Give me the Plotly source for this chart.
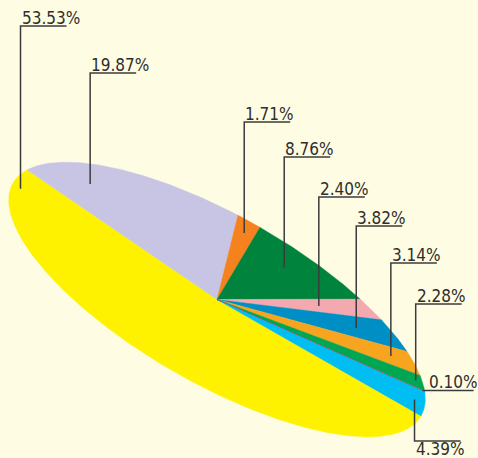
import numpy as np
import plotly.graph_objects as go

# Slice data, in drawing order (clockwise from the right-hand end of the pie)
labels = ["53.53%", "19.87%", "1.71%", "8.76%", "2.40%", "3.82%", "3.14%", "2.28%", "0.10%", "4.39%"]
values = [53.53, 19.87, 1.71, 8.76, 2.40, 3.82, 3.14, 2.28, 0.10, 4.39]
colors = ["#FFF200", "#C7C5E3", "#F5821F", "#00843D", "#F4A9B0",
          "#008FC5", "#F7A51E", "#00A651", "#ED1C24", "#00BEF2"]

# Tilted-pie geometry (pixel space, y grows downward)
W, H = 478, 458
CX, CY = 217.0, 299.5
A, B = 235.0, 84.0
PHI = np.radians(29.7)
U = np.array([np.cos(PHI), np.sin(PHI)])
V = np.array([-np.sin(PHI), np.cos(PHI)])

# Label placement: position within slice (fraction of its sweep), radial
# fraction, label line height and which way the leader goes
lab_frac = [0.93, 0.27, 0.5, 0.43, 0.5, 0.5, 0.5, 0.5, 0.5, 0.5]
lab_rad = [0.96, 0.84, 0.85, 0.75, 0.66, 0.78, 0.88, 0.965, 0.99, 0.95]
lab_y = [26, 73, 122, 157, 197, 226, 263, 304, None, 441]
LINE_LEN = 46
LINE_COLOR = "#3C3C3C"
TEXT_COLOR = "#2E2E2E"
FONT = "DejaVu Sans Condensed, DejaVu Sans, sans-serif"


def to_xy(theta, r=1.0):
    p = (np.array([CX, CY])[:, None]
         + r * A * np.cos(theta)[None, :] * U[:, None]
         + r * B * np.sin(theta)[None, :] * V[:, None])
    return p[0], p[1]


fig = go.Figure()

total = float(sum(values))
edges = np.concatenate([[0.0], np.cumsum(values)]) / total * 2 * np.pi

for i, (v, c) in enumerate(zip(values, colors)):
    t0, t1 = edges[i], edges[i + 1]
    n = max(4, int(np.degrees(t1 - t0) * 2))
    th = np.linspace(t0, t1, n)
    x, y = to_xy(th)
    xs = np.concatenate([[CX], x, [CX]])
    ys = np.concatenate([[CY], y, [CY]])
    fig.add_trace(go.Scatter(
        x=xs, y=ys, mode="lines", fill="toself", fillcolor=c,
        line=dict(color=c, width=0.8 if v < 0.5 else 0.4),
        hoverinfo="skip", showlegend=False))

# Leader lines and labels
for i, lab in enumerate(labels):
    t0, t1 = edges[i], edges[i + 1]
    th = np.array([t0 + lab_frac[i] * (t1 - t0)])
    ax, ay = to_xy(th, lab_rad[i])
    ax, ay = float(ax[0]), float(ay[0])
    ly = lab_y[i]
    if ly is None:
        # horizontal leader straight out to the right, text above it
        lx = [ax, ax + 51]
        lyy = [ay, ay]
        fig.add_trace(go.Scatter(x=lx, y=lyy, mode="lines",
                                 line=dict(color=LINE_COLOR, width=1.5),
                                 hoverinfo="skip", showlegend=False))
        fig.add_annotation(x=ax + 5, y=ay, text=lab, showarrow=False,
                           xanchor="left", yanchor="bottom", borderpad=0,
                           yshift=-3,
                           font=dict(family=FONT, size=17, color=TEXT_COLOR))
        continue
    lx = [ax, ax, ax + LINE_LEN]
    lyy = [ay, ly, ly]
    fig.add_trace(go.Scatter(x=lx, y=lyy, mode="lines",
                             line=dict(color=LINE_COLOR, width=1.5),
                             hoverinfo="skip", showlegend=False))
    if ly < ay:
        fig.add_annotation(x=ax, y=ly, text=lab, showarrow=False,
                           xanchor="left", yanchor="bottom", borderpad=0,
                           yshift=-3,
                           font=dict(family=FONT, size=17, color=TEXT_COLOR))
    else:
        fig.add_annotation(x=ax, y=ly, text=lab, showarrow=False,
                           xanchor="left", yanchor="top", borderpad=0,
                           yshift=3,
                           font=dict(family=FONT, size=17, color=TEXT_COLOR))

fig.update_layout(
    width=W, height=H,
    margin=dict(l=0, r=0, t=0, b=0),
    paper_bgcolor="#FEFCE2", plot_bgcolor="#FEFCE2",
    xaxis=dict(range=[0, W], visible=False, fixedrange=True),
    yaxis=dict(range=[H, 0], visible=False, fixedrange=True),
)

fig.write_html("out.html")
